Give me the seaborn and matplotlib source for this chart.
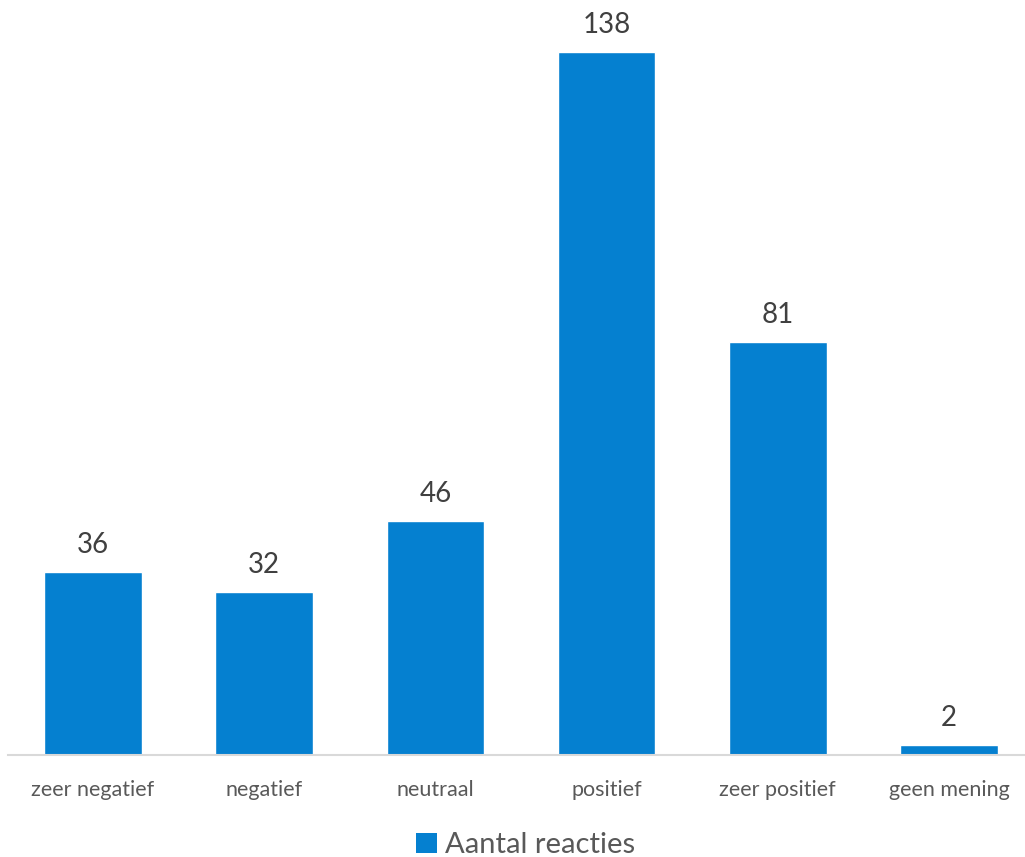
import matplotlib
matplotlib.use("Agg")

import pandas as pd
import seaborn as sns
import matplotlib.pyplot as plt
from matplotlib.patches import Patch

categories = ["zeer negatief", "negatief", "neutraal", "positief", "zeer positief", "geen mening"]
counts = [36, 32, 46, 138, 81, 2]
series_name = "Aantal reacties"

BAR_COLOR = "#0580D0"

df = pd.DataFrame({"cat": categories, "n": counts})

sns.set_style("white")
plt.rcParams["font.family"] = ["Lato", "DejaVu Sans"]

fig = plt.figure(figsize=(10.25, 8.57), dpi=100)
ax = fig.add_axes([8 / 1025, 1 - 755 / 857, 1 - 8 / 1025, 755 / 857])

sns.barplot(data=df, x="cat", y="n", color=BAR_COLOR, width=0.57, saturation=1, ax=ax)

ax.set_xlim(-0.4965, 5.444)
ax.set_ylim(0, 148.2)

for i, v in enumerate(counts):
    ax.annotate(str(v), (i, v), xytext=(0, 10), textcoords="offset points",
                ha="center", va="bottom", fontsize=20, color="#404040")

for s in ["top", "right", "left"]:
    ax.spines[s].set_visible(False)
ax.spines["bottom"].set_color("#D9D9D9")
ax.spines["bottom"].set_linewidth(1.5)
ax.set_yticks([])
ax.tick_params(axis="x", length=0, pad=18, labelsize=15.5, labelcolor="#595959")
ax.set_xlabel("")
ax.set_ylabel("")

handle = Patch(facecolor=BAR_COLOR, edgecolor="none")
fig.legend([handle], [series_name], loc="center", bbox_to_anchor=(0.513, 1 - 845 / 857),
           frameon=False, fontsize=21, labelcolor="#595959",
           handlelength=0.7, handleheight=0.7, handletextpad=0.3)

fig.savefig("out.png", dpi=100)
